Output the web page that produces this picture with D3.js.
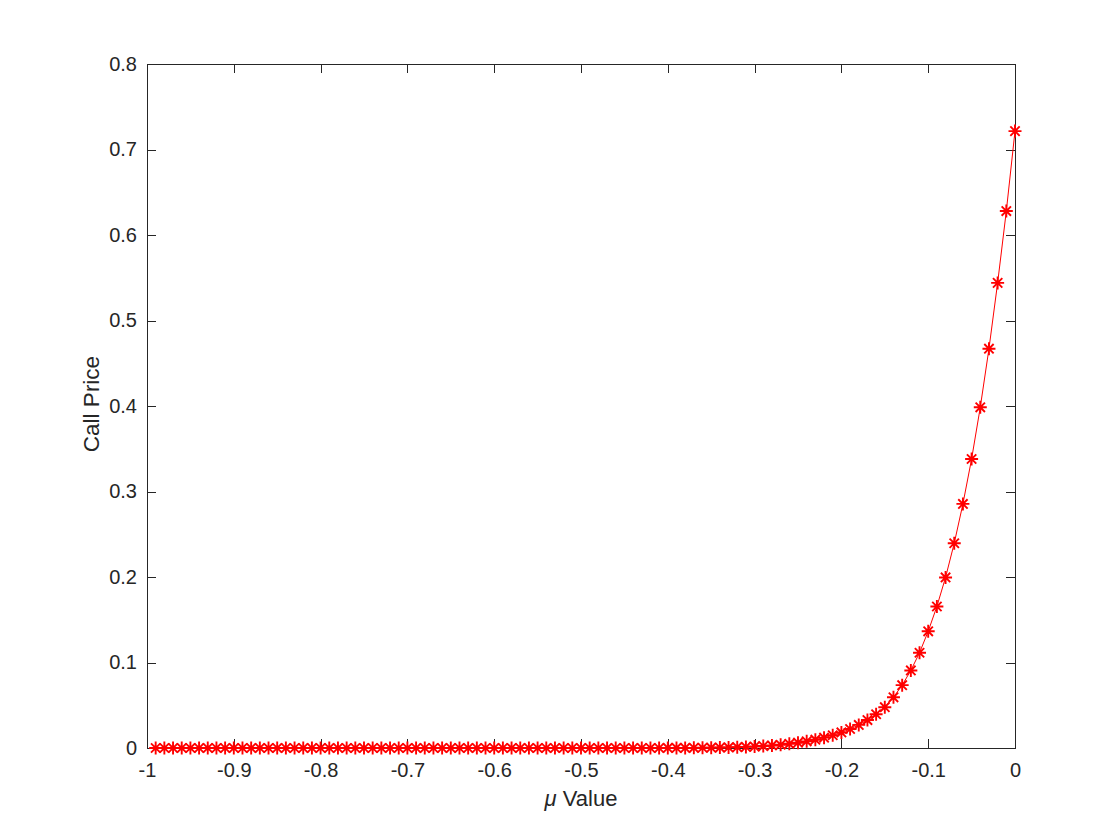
<!DOCTYPE html>
<html>
<head>
<meta charset="utf-8">
<script src="https://cdn.jsdelivr.net/npm/d3@7"></script>
<style>
  body { margin: 0; background: #fff; }
  text { font-family: "Liberation Sans", Arial, Helvetica, sans-serif; fill: #262626; }
</style>
</head>
<body>
<svg id="chart"></svg>
<script>
// mu values on the x axis
const muValues = [
  -0.99, -0.98, -0.97, -0.96, -0.95, -0.94, -0.93, -0.92, -0.91, -0.90,
  -0.89, -0.88, -0.87, -0.86, -0.85, -0.84, -0.83, -0.82, -0.81, -0.80,
  -0.79, -0.78, -0.77, -0.76, -0.75, -0.74, -0.73, -0.72, -0.71, -0.70,
  -0.69, -0.68, -0.67, -0.66, -0.65, -0.64, -0.63, -0.62, -0.61, -0.60,
  -0.59, -0.58, -0.57, -0.56, -0.55, -0.54, -0.53, -0.52, -0.51, -0.50,
  -0.49, -0.48, -0.47, -0.46, -0.45, -0.44, -0.43, -0.42, -0.41, -0.40,
  -0.39, -0.38, -0.37, -0.36, -0.35, -0.34, -0.33, -0.32, -0.31, -0.30,
  -0.29, -0.28, -0.27, -0.26, -0.25, -0.24, -0.23, -0.22, -0.21, -0.20,
  -0.19, -0.18, -0.17, -0.16, -0.15, -0.14, -0.13, -0.12, -0.11, -0.10,
  -0.09, -0.08, -0.07, -0.06, -0.05, -0.04, -0.03, -0.02, -0.01, 0.00
];

// call price for each mu
const callPrices = [
  0, 0, 0, 0, 0, 0, 0, 0, 0, 0,
  0, 0, 0, 0, 0, 0, 0, 0, 0, 0,
  0, 0, 0, 0, 0, 0, 0, 0, 0, 0,
  0, 0, 0, 0, 0, 0, 0, 0, 0, 0,
  0, 0, 0, 0, 0, 0, 0, 0, 0, 0,
  0, 0, 0, 0, 0, 0, 0, 0, 0, 0.0001,
  0.0001, 0.0001, 0.0002, 0.0003, 0.0004, 0.0005, 0.0007, 0.0010, 0.0013, 0.0017,
  0.0023, 0.0030, 0.0038, 0.0049, 0.0062, 0.0078, 0.0097, 0.0121, 0.0149, 0.0182,
  0.0222, 0.0270, 0.0327, 0.0395, 0.0477, 0.0593, 0.0735, 0.0907, 0.1114, 0.1365,
  0.1655, 0.1995, 0.2395, 0.2855, 0.3380, 0.3985, 0.4670, 0.5440, 0.6280, 0.7215
];

const xTicks = [-1, -0.9, -0.8, -0.7, -0.6, -0.5, -0.4, -0.3, -0.2, -0.1, 0];
const xTickLabels = ["-1", "-0.9", "-0.8", "-0.7", "-0.6", "-0.5", "-0.4", "-0.3", "-0.2", "-0.1", "0"];
const yTicks = [0, 0.1, 0.2, 0.3, 0.4, 0.5, 0.6, 0.7, 0.8];
const yTickLabels = ["0", "0.1", "0.2", "0.3", "0.4", "0.5", "0.6", "0.7", "0.8"];

const W = 1120, H = 840;
const plotLeft = 147, plotRight = 1015, plotTop = 64, plotBottom = 748;
const tickLen = 9;
const axisColor = "#262626";
const tickFont = "20px";

const svg = d3.select("#chart").attr("width", W).attr("height", H);

const x = d3.scaleLinear().domain([-1, 0]).range([plotLeft, plotRight]);
const y = d3.scaleLinear().domain([0, 0.8]).range([plotBottom, plotTop]);

// box
svg.append("rect")
  .attr("x", plotLeft).attr("y", plotTop)
  .attr("width", plotRight - plotLeft).attr("height", plotBottom - plotTop)
  .attr("fill", "none").attr("stroke", axisColor).attr("stroke-width", 1)
  .attr("shape-rendering", "crispEdges");

// x axis (bottom) with ticks pointing inward
const xAxis = svg.append("g")
  .attr("transform", `translate(0, ${plotBottom})`)
  .call(d3.axisBottom(x).tickValues(xTicks)
    .tickFormat((d, i) => xTickLabels[i])
    .tickSizeInner(-tickLen).tickSizeOuter(0).tickPadding(15));
xAxis.select(".domain").remove();
xAxis.selectAll("line").attr("stroke", axisColor).attr("shape-rendering", "crispEdges");
xAxis.selectAll("text").style("font-size", tickFont).attr("fill", axisColor)
  .style("font-family", '"Liberation Sans", Arial, sans-serif');

// top ticks
const xTop = svg.append("g")
  .attr("transform", `translate(0, ${plotTop})`)
  .call(d3.axisTop(x).tickValues(xTicks).tickFormat("")
    .tickSizeInner(-tickLen).tickSizeOuter(0));
xTop.select(".domain").remove();
xTop.selectAll("line").attr("stroke", axisColor).attr("shape-rendering", "crispEdges");

// y axis (left)
const yAxis = svg.append("g")
  .attr("transform", `translate(${plotLeft}, 0)`)
  .call(d3.axisLeft(y).tickValues(yTicks)
    .tickFormat((d, i) => yTickLabels[i])
    .tickSizeInner(-tickLen).tickSizeOuter(0).tickPadding(10));
yAxis.select(".domain").remove();
yAxis.selectAll("line").attr("stroke", axisColor).attr("shape-rendering", "crispEdges");
yAxis.selectAll("text").style("font-size", tickFont).attr("fill", axisColor)
  .style("font-family", '"Liberation Sans", Arial, sans-serif');

// right ticks
const yRight = svg.append("g")
  .attr("transform", `translate(${plotRight}, 0)`)
  .call(d3.axisRight(y).tickValues(yTicks).tickFormat("")
    .tickSizeInner(-tickLen).tickSizeOuter(0));
yRight.select(".domain").remove();
yRight.selectAll("line").attr("stroke", axisColor).attr("shape-rendering", "crispEdges");

// axis labels
const xLab = svg.append("text")
  .attr("x", (plotLeft + plotRight) / 2).attr("y", 806)
  .attr("text-anchor", "middle")
  .style("font-size", "22px");
xLab.append("tspan").attr("font-style", "italic").text("μ");
xLab.append("tspan").text(" Value");

svg.append("text")
  .attr("transform", `translate(99, ${(plotTop + plotBottom) / 2 - 2}) rotate(-90)`)
  .attr("text-anchor", "middle")
  .style("font-size", "22.5px")
  .text("Call Price");

// data
const data = muValues.map((m, i) => ({ mu: m, price: callPrices[i] }));

const line = d3.line()
  .x(d => x(d.mu))
  .y(d => y(d.price));

svg.append("path")
  .datum(data)
  .attr("d", line)
  .attr("fill", "none")
  .attr("stroke", "#ff0000")
  .attr("stroke-width", 1);

// asterisk markers
const r = 6.5;
const rd = r * 0.72;
const markers = svg.append("g").attr("stroke", "#ff0000").attr("stroke-width", 1.9);
markers.selectAll("path")
  .data(data)
  .enter()
  .append("path")
  .attr("d", d => {
    const cx = x(d.mu), cy = y(d.price);
    return `M${cx - r},${cy}L${cx + r},${cy}` +
      `M${cx},${cy - r}L${cx},${cy + r}` +
      `M${cx - rd},${cy - rd}L${cx + rd},${cy + rd}` +
      `M${cx - rd},${cy + rd}L${cx + rd},${cy - rd}`;
  });
</script>
</body>
</html>
